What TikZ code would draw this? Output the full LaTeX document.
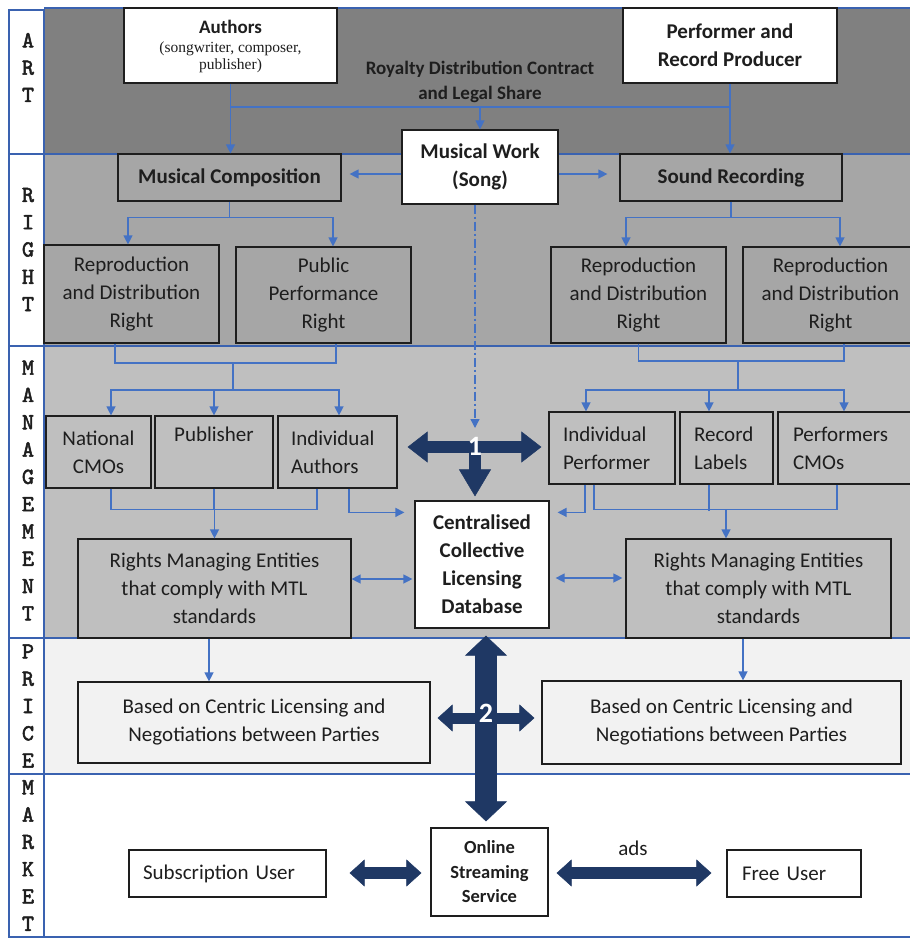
\documentclass[tikz,border=0pt]{standalone}
\usepackage{fontspec}
\setmainfont{Carlito}
\newfontfamily\serifrm{Liberation Serif}
\newfontfamily\labfont[FakeBold=2.2]{lmmono10-regular.otf}
\usetikzlibrary{arrows.meta,calc}
\definecolor{artgray}{HTML}{808080}
\definecolor{rightgray}{HTML}{A6A6A6}
\definecolor{mgmtgray}{HTML}{BFBFBF}
\definecolor{pricegray}{HTML}{F2F2F2}
\definecolor{conblue}{HTML}{4472C4}
\definecolor{bandblue}{HTML}{3A62B0}
\definecolor{navy}{HTML}{1F3864}
\definecolor{ink}{HTML}{1E1E1E}
\begin{document}
\begin{tikzpicture}[x=1pt,y=-1pt,
  box/.style={draw=ink, line width=1.2pt, text=ink, inner sep=0pt, align=center, font=\fontsize{21}{28}\selectfont},
  bbox/.style={box, font=\bfseries\fontsize{21}{28}\selectfont},
  lab/.style={text=ink, align=center, inner sep=0pt, font=\labfont\fontsize{23}{27.3}\selectfont},
  labbox/.style={draw=bandblue, line width=1.3pt, fill=white},
  bandline/.style={draw=bandblue, line width=1.8pt},
  cline/.style={draw=conblue, line width=1.3pt},
  conn/.style={cline, -{Triangle[length=9pt,width=9pt]}},
  conn2/.style={cline, {Triangle[length=9pt,width=9pt]}-{Triangle[length=9pt,width=9pt]}},
  bigA/.style={draw=navy, line width=12pt, {Triangle[length=20pt,width=31pt,line width=0.5pt]}-{Triangle[length=20pt,width=31pt,line width=0.5pt]}},
  bigD/.style={draw=navy, line width=12pt, -{Triangle[length=27pt,width=32pt,line width=0.5pt]}},
  bigV/.style={draw=navy, line width=22pt, {Triangle[length=20pt,width=42pt,line width=0.5pt]}-{Triangle[length=20pt,width=42pt,line width=0.5pt]}},
  bigH/.style={draw=navy, line width=11pt, {Triangle[length=15pt,width=27pt,line width=0.5pt]}-{Triangle[length=15pt,width=27pt,line width=0.5pt]}},
  num/.style={text=white, inner sep=0pt, font=\bfseries\fontsize{28}{30}\selectfont},
  txt/.style={text=ink, inner sep=0pt, align=center, font=\fontsize{21}{28}\selectfont}
]
\useasboundingbox (0,0) rectangle (910,938);
\fill[white] (0,0) rectangle (910,938);
% bands
\fill[artgray] (44,8) rectangle (910,154);
\fill[rightgray] (44,154) rectangle (910,346);
\fill[mgmtgray] (44,346) rectangle (910,638);
\fill[pricegray] (44,638) rectangle (910,774);
\foreach \yy in {8,154,346,638,774,937} \draw[bandline] (44,\yy) -- (910,\yy);
% label column
\foreach \a/\b in {10/154,154/346,346/638,638/774,774/937} \draw[labbox] (9,\a) rectangle (44,\b);
\node[lab] (lart) at (28,67.5) {A\\R\\T};
\node[lab] (lright) at (28,249.5) {R\\I\\G\\H\\T};
\node[lab] (lman) at (28,490.5) {M\\A\\N\\A\\G\\E\\M\\E\\N\\T};
\node[lab] (lprice) at (28,706) {P\\R\\I\\C\\E};
\node[lab] (lmarket) at (28,855.5) {M\\A\\R\\K\\E\\T};

% ART row
\node[box, fill=white, minimum width=213, minimum height=75] (auth) at (230.5,45.5) {};
\node[text=ink, inner sep=0pt, font=\bfseries\fontsize{19}{22}\selectfont] (autht) at (230.5,27) {Authors};
\node[text=ink, inner sep=0pt, align=center, font=\serifrm\fontsize{15.5}{17}\selectfont] (authp) at (230.5,57) {(songwriter, composer,\\publisher)};
\node[bbox, fill=white, minimum width=214, minimum height=75] (perf) at (730,45.5) {Performer and\\Record Producer};
\node[text=ink, inner sep=0pt, align=center, font=\bfseries\fontsize{19}{25}\selectfont] (roy) at (480,81.5) {Royalty Distribution Contract\\and Legal Share};
\node[bbox, fill=white, minimum width=156, minimum height=74] (mw) at (480,167) {Musical Work\\(Song)};

% RIGHT row
\node[bbox, fill=rightgray, minimum width=223, minimum height=47] (mc) at (229.5,177.5) {Musical Composition};
\node[bbox, fill=rightgray, minimum width=222, minimum height=47] (sr) at (731,177.5) {Sound Recording};
\node[box, fill=rightgray, minimum width=175, minimum height=98] (rdl) at (131.5,294) {Reproduction\\and Distribution\\Right};
\node[box, fill=rightgray, minimum width=175, minimum height=96] (ppr) at (323.5,295) {Public\\Performance\\Right};
\node[box, fill=rightgray, minimum width=175, minimum height=96] (rdr1) at (638.5,295) {Reproduction\\and Distribution\\Right};
\node[box, fill=rightgray, minimum width=175, minimum height=96] (rdr2) at (830.5,295) {Reproduction\\and Distribution\\Right};

% MANAGEMENT row
\node[box, fill=mgmtgray, minimum width=105, minimum height=72] (ncmo) at (98.5,452) {National\\CMOs};
\node[box, fill=mgmtgray, minimum width=118, minimum height=72] (pub) at (214,452) {Publisher\\\strut};
\node[box, fill=mgmtgray, align=left, text width=93pt, inner xsep=13pt, minimum height=72] (iauth) at (337.5,452) {Individual\\Authors};
\node[box, fill=mgmtgray, align=left, text width=98pt, inner xsep=14pt, minimum height=72] (iperf) at (612,448) {Individual\\Performer};
\node[box, fill=mgmtgray, align=left, text width=65pt, inner xsep=14pt, minimum height=72] (rlab) at (726.5,448) {Record\\Labels};
\node[box, fill=mgmtgray, align=left, text width=110pt, inner xsep=15pt, minimum height=72] (pcmo) at (848,448) {Performers\\CMOs};
\node[box, fill=mgmtgray, minimum width=273, minimum height=99] (rmel) at (214.5,588.5) {Rights Managing Entities\\that comply with MTL\\standards};
\node[bbox, fill=white, minimum width=134, minimum height=127] (cdb) at (482,564.5) {Centralised\\Collective\\Licensing\\Database};
\node[box, fill=mgmtgray, minimum width=265, minimum height=99] (rmer) at (758.5,588.5) {Rights Managing Entities\\that comply with MTL\\standards};

% PRICE row
\node[box, fill=pricegray, minimum width=352, minimum height=81] (pricel) at (254,722.5) {Based on Centric Licensing and\\Negotiations between Parties};
\node[box, fill=pricegray, minimum width=359, minimum height=83] (pricer) at (721.5,722.5) {Based on Centric Licensing and\\Negotiations between Parties};

% MARKET row
\node[box, fill=white, align=left, text width=169pt, inner xsep=14pt, minimum height=47] (sub) at (227.5,873.5) {Subscription User};
\node[box, fill=white, minimum width=117, minimum height=88, font=\bfseries\fontsize{18.5}{24.5}\selectfont] (oss) at (489.5,872) {Online\\Streaming\\Service};
\node[box, fill=white, align=left, text width=104pt, inner xsep=15pt, minimum height=47] (free) at (794,873.5) {Free User};
\node[txt] (ads) at (633,848) {ads};

% ART connectors
\coordinate (jt) at (480,107);
\draw[conn] (auth.south) -- (auth.south |- mc.north);
\draw[conn] (perf.south) -- (perf.south |- sr.north);
\draw[cline] (auth.south |- jt) -- (perf.south |- jt);
\draw[conn] (mw.north |- jt) -- (mw.north);
\coordinate (mwl) at ($(mw.west)+(0,7)$);
\draw[conn, shorten >=8pt] (mwl) -- (mwl -| mc.east);
\coordinate (mwr) at ($(mw.east)+(0,7)$);
\draw[conn, shorten >=12pt] (mwr) -- (mwr -| sr.west);

% RIGHT connectors
\coordinate (jc) at ($(mc.south)+(0,16)$);
\draw[cline] (mc.south) -- (jc);
\draw[conn] (jc) -| ($(rdl.north)+(-3.5,0)$);
\draw[conn] (jc) -| ($(ppr.north)+(9.5,0)$);
\coordinate (js) at ($(sr.south)+(0,16)$);
\draw[cline] (sr.south) -- (js);
\draw[conn] (js) -| ($(rdr1.north)+(-12.5,0)$);
\draw[conn] (js) -| ($(rdr2.north)+(9.5,0)$);

% MANAGEMENT connectors, left
\coordinate (jm1) at (233,363);
\coordinate (jm2) at (233,390);
\draw[cline] ($(rdl.south)+(-16.5,0)$) |- (jm1) -| ($(ppr.south)+(12.5,0)$);
\draw[cline] (jm1) -- (jm2);
\draw[conn] (jm2) -| ($(ncmo.north)+(12.5,0)$);
\draw[conn] (jm2 -| pub.north) -- (pub.north);
\draw[conn] (jm2) -| ($(iauth.north)+(1.5,0)$);
\coordinate (jm3) at ($(rmel.north)+(0,-29)$);
\draw[cline] ($(ncmo.south)+(12.5,0)$) |- (jm3);
\draw[cline] ($(iauth.south)+(-20.5,0)$) |- (jm3);
\draw[cline] (pub.south) -- (pub.south |- jm3);
\draw[conn] (jm3) -- (rmel.north);
\coordinate (ia) at ($(iauth.south)+(11.5,0)$);
\coordinate (iat) at ($(cdb.north west)+(0,12)$);
\draw[conn, shorten >=10pt] (ia) |- (iat);
\coordinate (r1) at ($(rmel.east)+(0,-9.5)$);
\draw[conn2, shorten >=2pt] (r1) -- (r1 -| cdb.west);

% MANAGEMENT connectors, right
\coordinate (jr1) at (738,361);
\coordinate (jr2) at (738,390);
\draw[cline] (rdr1.south) |- (jr1) -| ($(rdr2.south)+(13.5,0)$);
\draw[cline] (jr1) -- (jr2);
\draw[conn] (jr2) -| ($(iperf.north)+(-26,0)$);
\draw[conn] (jr2) -| ($(rlab.north)+(-17.5,0)$);
\draw[conn] (jr2) -| ($(pcmo.north)+(-4,0)$);
\coordinate (jr3) at ($(rmer.north)+(-32.5,-29)$);
\draw[cline] ($(iperf.south)+(-18,0)$) |- (jr3);
\draw[cline] ($(pcmo.south)+(-11,0)$) |- (jr3);
\draw[cline] ($(rlab.south)+(-17.5,0)$) -- ($(rlab.south)+(-17.5,26)$);
\draw[conn] (jr3) -- (jr3 |- rmer.north);
\coordinate (ip) at ($(iperf.south)+(-27,0)$);
\coordinate (ipt) at ($(cdb.north east)+(0,12)$);
\draw[conn, shorten >=8pt] (ip) |- (ipt);
\coordinate (r2) at ($(cdb.east)+(0,13.5)$);
\draw[conn2, shorten <=6pt, shorten >=3pt] (r2) -- (r2 -| rmer.west);

% PRICE connectors
\coordinate (p1) at ($(rmel.south)+(-5.5,0)$);
\draw[conn] (p1) -- (p1 |- pricel.north);
\coordinate (p2) at ($(rmer.south)+(-15.5,0)$);
\draw[conn] (p2) -- (p2 |- pricer.north);

% big arrow 1
\coordinate (c1) at (475,447);
\draw[conn, dash pattern=on 9pt off 3pt on 2pt off 3pt] ($(mw.south)+(-5,0)$) -- ($(c1)+(0,-19)$);
\draw[bigD, shorten >=4pt] (c1) -- (c1 |- cdb.north);
\draw[bigA, shorten <=10pt, shorten >=7pt] (c1 -| iauth.east) -- (c1 -| iperf.west);
\node[num] (n1) at (475,446) {1};

% big arrow 2
\coordinate (c2) at (486,718);
\draw[bigV, shorten <=7pt, shorten >=6pt] (c2 |- cdb.south) -- (c2 |- oss.north);
\draw[bigH, shorten <=7pt, shorten >=7pt] (c2 -| pricel.east) -- (c2 -| pricer.west);
\node[num] (n2) at (486,713) {2};

% market arrows
\coordinate (c3) at (0,873);
\draw[bigH, line width=12pt, shorten <=23pt, shorten >=9pt] (c3 -| sub.east) -- (c3 -| oss.west);
\draw[bigH, line width=12pt, shorten <=8pt, shorten >=15pt] (c3 -| oss.east) -- (c3 -| free.west);
\end{tikzpicture}
\end{document}
